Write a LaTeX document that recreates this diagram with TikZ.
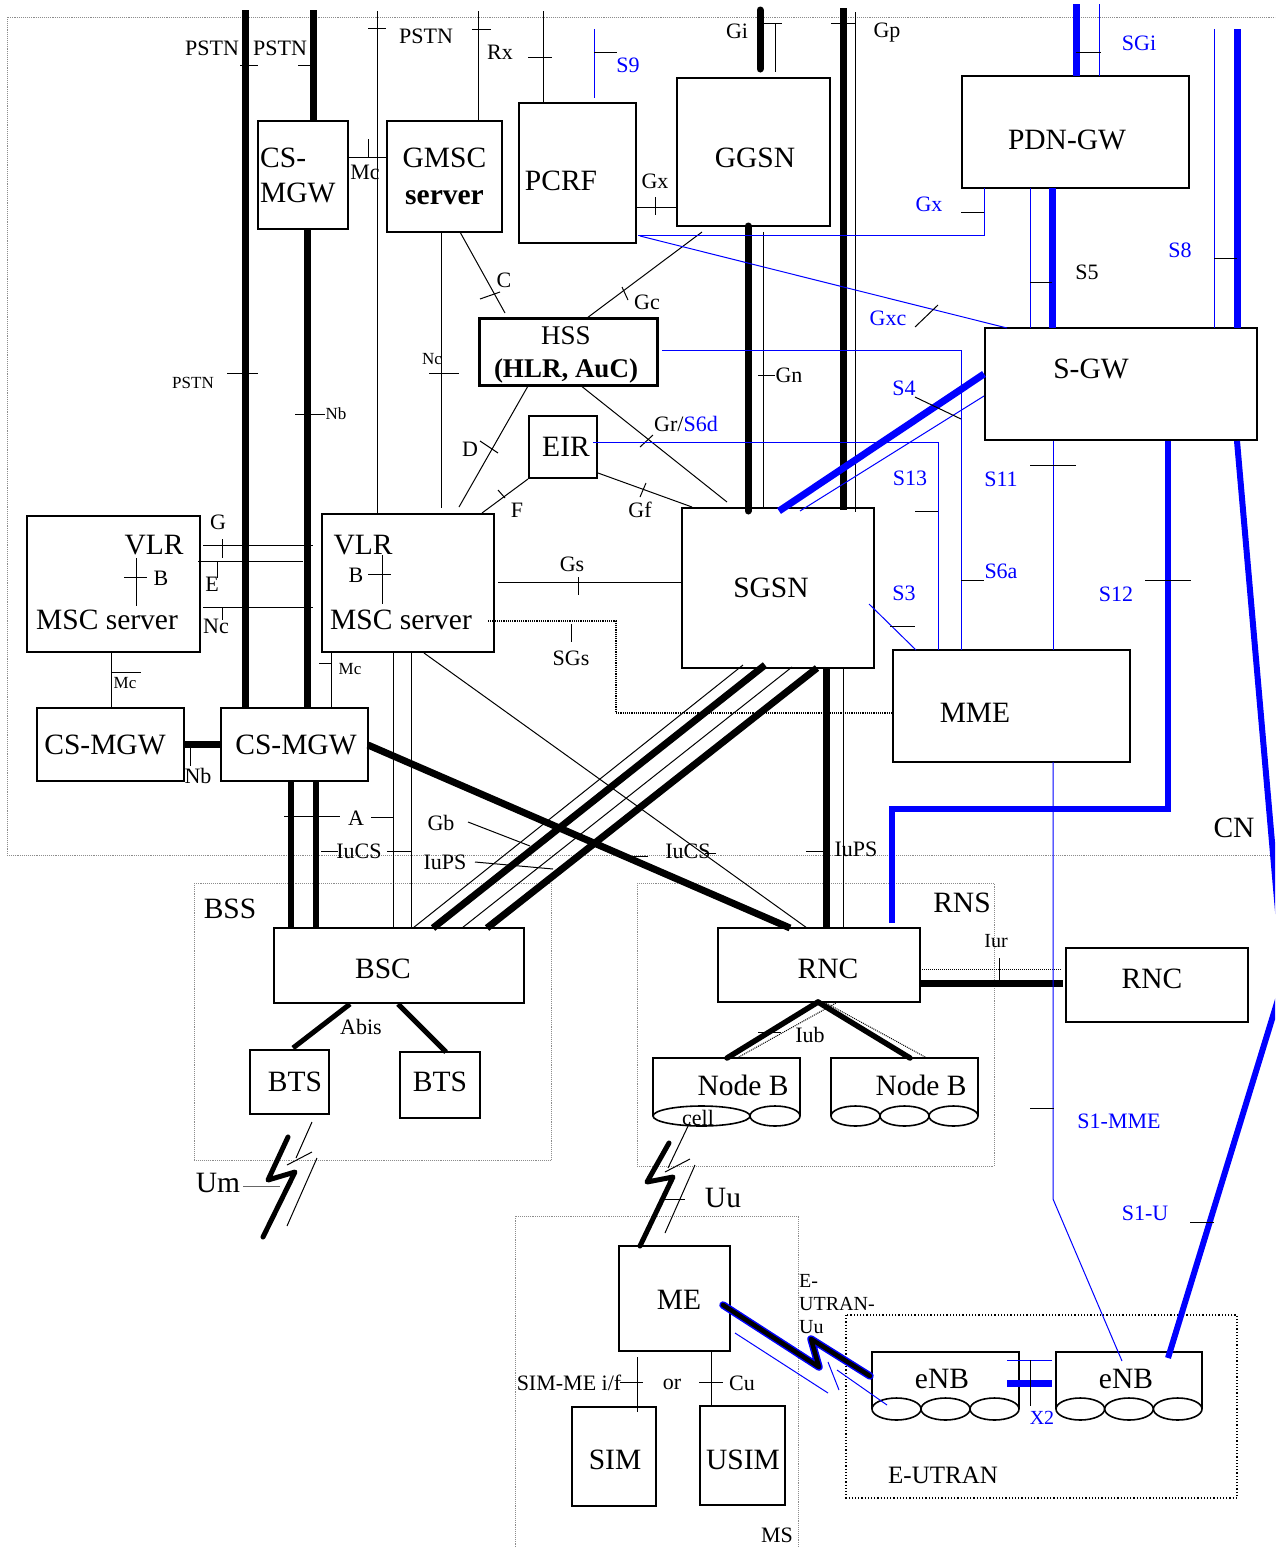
\documentclass[tikz,border=0pt]{standalone}
\usepackage{fontspec}
\setmainfont{Liberation Serif}
\begin{document}
\begin{tikzpicture}[x=1pt,y=-1pt,
  box/.style={draw, line width=2.2pt, inner sep=0pt, font=\fontsize{29.5}{35}\selectfont},
  big/.style={inner sep=0pt, font=\fontsize{29.5}{35}\selectfont},
  med/.style={inner sep=0pt, font=\fontsize{22}{26}\selectfont},
  sml/.style={inner sep=0pt, font=\fontsize{17}{20}\selectfont},
  blu/.style={text=blue},
  thk/.style={line width=7pt},
  thn/.style={line width=1pt},
  bthk/.style={draw=blue, line width=7pt},
  bthn/.style={draw=blue, line width=1pt},
  area/.style={draw=black!45, line width=0.9pt, densely dotted},
  cellshape/.style={line width=1.6pt, fill=white},
]
\useasboundingbox (0,0) rectangle (1275,1548);
\clip (0,0) rectangle (1275,1548);

% ---------------- areas
\draw[area] (1295,17) -- (7,17) -- (7,855) -- (1295,855);
\draw[area] (194,883) rectangle (551,1160);
\draw[area] (637,883) rectangle (994,1166);
\draw[area] (515,1570) -- (515,1216) -- (798,1216) -- (798,1570);
\draw[line width=1.2pt, dotted] (846,1315) rectangle (1237,1498);

% ---------------- boxes
\node[box, minimum width=90pt, minimum height=108pt] (csmgwT) at (303,175) {};
\node[big, align=left, anchor=west] (csmgwTt) at (260,175) {CS-\\MGW};
\node[box, minimum width=115pt, minimum height=111pt, align=center, font=\fontsize{29.5}{37}\selectfont] (gmsc) at (444.5,176.5) {GMSC\\\textbf{server}};
\node[box, minimum width=117pt, minimum height=140pt] (pcrf) at (577.5,173) {};
\node[big] (pcrft) at (561,181) {PCRF};
\node[box, minimum width=153pt, minimum height=148pt] (ggsn) at (753.5,152) {};
\node[big] (ggsnt) at (755,158) {GGSN};
\node[box, minimum width=227pt, minimum height=112pt] (pdngw) at (1075.5,132) {};
\node[big] (pdngwt) at (1067,140) {PDN-GW};
\node[box, minimum width=272pt, minimum height=112pt] (sgw) at (1121,384) {};
\node[big] (sgwt) at (1091,369) {S-GW};
\node[box, line width=3pt, minimum width=178pt, minimum height=67pt] (hss) at (568,351.5) {};
\node[inner sep=0pt, align=center, font=\fontsize{27}{33}\selectfont] (hsst) at (566,355) {HSS\\\textbf{(HLR, AuC)}};
\node[box, line width=2.6pt, minimum width=68pt, minimum height=62pt] (eir) at (563,447) {};
\node[big] (eirt) at (566,447) {EIR};
\node[box, minimum width=192pt, minimum height=160pt] (sgsn) at (778,588) {};
\node[big] (sgsnt) at (771,588) {SGSN};
\node[box, minimum width=237pt, minimum height=112pt] (mme) at (1011.5,706) {};
\node[big] (mmet) at (975,713) {MME};
\node[box, minimum width=173pt, minimum height=136pt] (msc1) at (113.5,584) {};
\node[big] (vlr1) at (154,545) {VLR};
\node[big] (mscs1) at (107,620) {MSC server};
\node[box, minimum width=172pt, minimum height=138pt] (msc2) at (408,583) {};
\node[big] (vlr2) at (363,545) {VLR};
\node[big] (mscs2) at (401,620) {MSC server};
\node[box, minimum width=147pt, minimum height=73pt] (mgw1) at (110.5,744.5) {};
\node[big] (mgw1t) at (105,745) {CS-MGW};
\node[box, minimum width=147pt, minimum height=73pt] (mgw2) at (294.5,744.5) {};
\node[big] (mgw2t) at (296,745) {CS-MGW};
\node[box, minimum width=250pt, minimum height=75pt] (bsc) at (399,965.5) {};
\node[big] (bsct) at (383,969) {BSC};
\node[box, minimum width=79pt, minimum height=64pt] (bts1) at (289.5,1082) {};
\node[big] (bts1t) at (295,1082) {BTS};
\node[box, minimum width=80pt, minimum height=66pt] (bts2) at (440,1085) {};
\node[big] (bts2t) at (440,1082) {BTS};
\node[box, minimum width=202pt, minimum height=74pt] (rnc) at (819,965) {};
\node[big] (rnct) at (828,969) {RNC};
\node[box, minimum width=182pt, minimum height=74pt] (rnc2) at (1157,985) {};
\node[big] (rnc2t) at (1152,979) {RNC};
\node[box, minimum width=111pt, minimum height=105pt] (me) at (674.5,1298.5) {};
\node[big] (met) at (679,1300) {ME};
\node[box, minimum width=84pt, minimum height=99pt] (sim) at (614,1456.5) {};
\node[big] (simt) at (615,1460) {SIM};
\node[box, minimum width=85pt, minimum height=99pt] (usim) at (742.5,1455.5) {};
\node[big] (usimt) at (743,1460) {USIM};

% Node B / eNB shapes
\draw[line width=2pt] (653,1116) -- (653,1058) -- (800,1058) -- (800,1116);
\draw[cellshape] (701.5,1116) ellipse [x radius=48.5pt, y radius=10pt];
\draw[cellshape] (775,1116) ellipse [x radius=25pt, y radius=10pt];
\node[big] (nodeb1) at (743,1085) {Node B};
\draw[line width=2pt] (831,1116) -- (831,1058) -- (978,1058) -- (978,1116);
\draw[cellshape] (855.5,1116) ellipse [x radius=24.5pt, y radius=10pt];
\draw[cellshape] (904.5,1116) ellipse [x radius=24.5pt, y radius=10pt];
\draw[cellshape] (953.5,1116) ellipse [x radius=24.5pt, y radius=10pt];
\node[big] (nodeb2) at (921,1085) {Node B};
\draw[line width=2pt] (872,1409) -- (872,1352) -- (1019,1352) -- (1019,1409);
\draw[cellshape] (896.5,1409) ellipse [x radius=24.5pt, y radius=11pt];
\draw[cellshape] (945.5,1409) ellipse [x radius=24.5pt, y radius=11pt];
\draw[cellshape] (994.5,1409) ellipse [x radius=24.5pt, y radius=11pt];
\node[big] (enb1) at (942,1379) {eNB};
\draw[line width=2pt] (1056,1409) -- (1056,1352) -- (1202,1352) -- (1202,1409);
\draw[cellshape] (1080.3,1409) ellipse [x radius=24.3pt, y radius=11pt];
\draw[cellshape] (1129,1409) ellipse [x radius=24.3pt, y radius=11pt];
\draw[cellshape] (1177.7,1409) ellipse [x radius=24.3pt, y radius=11pt];
\node[big] (enb2) at (1126,1379) {eNB};

% ---------------- thick black lines
\draw[thk] (245,10) -- (245,708);
\draw[thk] (313,10) -- (313,121);
\draw[thk] (307,229) -- (307,708);
\draw[thk] (184,744) -- (221,744);
\draw[line width=6pt] (291,781) -- (291,928);
\draw[line width=6pt] (316,781) -- (316,928);
\draw[thk] (368,745) -- (790,928);
\draw[thk, line cap=round] (748,226) -- (748,511);
\draw[thk] (843,8) -- (843,510);
\draw[thk, line cap=round] (760,10) -- (760,69);
\draw[thk] (765,665) -- (433,928);
\draw[thk] (817,668) -- (487,928);
\draw[thk] (826,668) -- (826,928);
\draw[thk] (920,983) -- (1063,983);
\draw[line width=5.5pt, line cap=round] (818,1002) -- (727,1058);
\draw[line width=5.5pt, line cap=round] (818,1002) -- (910,1058);
\draw[line width=5pt] (350,1004) -- (293,1048);
\draw[line width=5pt] (398,1004) -- (446,1052);
\draw[line width=5pt, line cap=round, line join=round] (288,1137) -- (268,1180) -- (295,1172) -- (263,1237);
\draw[line width=5pt, line cap=round, line join=round] (669,1143) -- (647,1182) -- (673,1177) -- (640,1246);

% ---------------- thin black lines
\draw[thn] (377,11) -- (377,514);  \draw[thn] (368,28) -- (386,28);
\draw[thn] (478,11) -- (478,121);  \draw[thn] (472,29) -- (491,29);
\draw[thn] (543,11) -- (543,103);  \draw[thn] (528,57) -- (552,57);
\draw[thn] (348,157) -- (387,157); \draw[thn] (368,139) -- (368,157);
\draw[thn] (240,65) -- (258,65);
\draw[thn] (298,65) -- (316,65);
\draw[thn] (227,373) -- (258,373);
\draw[thn] (295,414) -- (325,414);
\draw[thn] (775,23) -- (775,72);   \draw[thn] (758,23) -- (782,23);
\draw[thn] (855,12) -- (855,512);  \draw[thn] (831,23) -- (856,23);
\draw[thn] (763,232) -- (763,508); \draw[thn] (758,375) -- (775,375);
\draw[thn] (636,207) -- (677,207); \draw[thn] (655,197) -- (655,215);
\draw[thn] (460,232) -- (505,313); \draw[thn] (480,299) -- (500,292);
\draw[thn] (587,318) -- (702,232); \draw[thn] (622,287) -- (628,300);
\draw[thn] (441,232) -- (441,508); \draw[thn] (429,373) -- (459,373);
\draw[thn] (528,386) -- (459,507); \draw[thn] (480,441) -- (498,453);
\draw[thn] (580,385) -- (727,502); \draw[thn] (640,447) -- (653,435);
\draw[thn] (528,479) -- (482,513); \draw[thn] (498,490) -- (505,498);
\draw[thn] (598,473) -- (692,507); \draw[thn] (646,483) -- (640,497);
\draw[thn] (203,545) -- (313,545); \draw[thn] (222,539) -- (222,558);
\draw[thn] (198,561) -- (303,561); \draw[thn] (217,561) -- (217,578);
\draw[thn] (203,607) -- (313,607); \draw[thn] (222,607) -- (222,620);
\draw[thn] (136,558) -- (136,606); \draw[thn] (124,577) -- (147,577);
\draw[thn] (382,555) -- (382,604); \draw[thn] (368,574) -- (391,574);
\draw[thn] (111,652) -- (111,708); \draw[thn] (111,672) -- (141,672);
\draw[thn] (331,652) -- (331,708); \draw[thn] (319,663) -- (331,663);
\draw[thn] (190,748) -- (190,766);
\draw[thn] (498,582) -- (682,582); \draw[thn] (578,577) -- (578,595);
\draw[line width=1.2pt, densely dotted] (488,621) -- (616,621) -- (616,713) -- (893,713);
\draw[thn] (571,624) -- (571,642);
\draw[thn] (393,652) -- (393,928);
\draw[thn] (411,652) -- (411,928);
\draw[thn] (284,816) -- (340,816); \draw[thn] (371,817) -- (393,817);
\draw[thn] (321,851) -- (338,851); \draw[thn] (387,851) -- (412,851);
\draw[thn] (424,653) -- (807,928);
\draw[thn] (628,856) -- (648,856); \draw[thn] (705,853) -- (716,853);
\draw[thn] (743,665) -- (413,928);
\draw[thn] (792,667) -- (462,928);
\draw[thn] (843,668) -- (843,928); \draw[thn] (806,851) -- (826,851);
\draw[thn] (468,822) -- (530,846);
\draw[thn] (475,862) -- (553,869);
\draw[line width=1pt, densely dotted] (920,969) -- (1062,969);
\draw[thn] (999,958) -- (999,980);
\draw[thn] (758,1032) -- (781,1032);
\draw[line width=1pt, densely dotted] (737,1058) -- (836,1003);
\draw[line width=1pt, densely dotted] (826,1003) -- (927,1058);
\draw[thn] (312,1122) -- (296,1158);
\draw[thn] (317,1158) -- (287,1226);
\draw[thn] (287,1165) -- (312,1152);
\draw[thn, black!60] (243,1186) -- (280,1186);
\draw[thn] (690,1122) -- (668,1168);
\draw[thn] (695,1165) -- (665,1233);
\draw[thn] (665,1172) -- (690,1159);
\draw[thn] (665,1199) -- (685,1199);
\draw[thn] (637,1357) -- (637,1412); \draw[thn] (620,1382) -- (643,1382);
\draw[thn] (711,1351) -- (711,1406); \draw[thn] (699,1382) -- (723,1382);

% ---------------- blue lines
\draw[bthn] (594,29) -- (594,98);   \draw[thn] (594,52) -- (617,52);
\draw[bthn] (638,235) -- (984,235) -- (984,188); \draw[thn] (961,212) -- (984,212);
\draw[bthn] (640,236) -- (1007,328); \draw[thn] (915,327) -- (938,305);
\draw[bthn] (662,350) -- (961,350) -- (961,650); \draw[thn] (961,580) -- (984,580);
\draw[bthn] (593,442) -- (938,442) -- (938,650); \draw[thn] (915,511) -- (938,511);
\draw[bthk] (779,511) -- (984,374);
\draw[bthn] (800,511) -- (984,396);
\draw[thn] (915,397) -- (961,419);
\draw[bthn] (869,604) -- (916,650); \draw[thn] (890,626) -- (915,626);
\draw[bthn] (1053,441) -- (1053,650); \draw[thn] (1030,465) -- (1076,465);
\draw[bthn] (1053,762) -- (1053,1199) -- (1122,1361); \draw[thn] (1030,1108) -- (1054,1108);
\draw[bthk, line width=6.5pt] (1168,441) -- (1168,809) -- (892,809) -- (892,923);
\draw[thn] (1145,580) -- (1191,580);
\draw[bthk, line width=6pt] (1237,441) -- (1284,980) -- (1168,1358);
\draw[thn] (1190,1222) -- (1214,1222);
\draw[bthk] (1052,188) -- (1052,328);
\draw[bthn] (1030,188) -- (1030,328); \draw[thn] (1030,282) -- (1052,282);
\draw[bthn] (1214,29) -- (1214,328);
\draw[bthk] (1237,29) -- (1237,328); \draw[thn] (1214,258) -- (1237,258);
\draw[bthk] (1076,4) -- (1076,76);
\draw[bthn] (1099,4) -- (1099,76); \draw[thn] (1076,52) -- (1101,52);
\draw[bthk] (1007,1383) -- (1052,1383);
\draw[bthn] (1007,1360) -- (1052,1360); \draw[thn] (1030,1360) -- (1030,1406);
\draw[blue, line width=7.5pt, line cap=round, line join=round] (723,1305) -- (819,1367) -- (811,1339) -- (870,1376);
\draw[black, line width=4.5pt, line cap=round, line join=round] (723,1305) -- (819,1367) -- (811,1339) -- (870,1376);
\draw[bthn] (735,1333) -- (828,1393);
\draw[bthn] (828,1362) -- (839,1390);
\draw[bthn] (837,1370) -- (887,1405);

% ---------------- labels
\node[med] (l1) at (212,48.5) {PSTN};
\node[med] (l2) at (280,48.5) {PSTN};
\node[med] (l3) at (426,36) {PSTN};
\node[med] (l4) at (500,52) {Rx};
\node[med, blu] (l5) at (628,65) {S9};
\node[med] (l6) at (737,31) {Gi};
\node[med] (l7) at (887,33) {Gp};
\node[med, blu] (l8) at (1139,43) {SGi};
\node[med] (l9) at (365,172) {Mc};
\node[med] (l10) at (655,181) {Gx};
\node[med, blu] (l11) at (929,204) {Gx};
\node[med] (l12) at (1087,272) {S5};
\node[med, blu] (l13) at (1180,250) {S8};
\node[med, blu] (l14) at (888,318) {Gxc};
\node[med] (l15) at (504,280) {C};
\node[med] (l16) at (647,302) {Gc};
\node[sml] (l17) at (432,359) {Nc};
\node[sml] (l18) at (193,383) {PSTN};
\node[med] (l19) at (789,375) {Gn};
\node[med, blu] (l20) at (904,388) {S4};
\node[sml] (l21) at (336,414) {Nb};
\node[med] (l22) at (686,424) {Gr/\textcolor{blue}{S6d}};
\node[med] (l23) at (470,449) {D};
\node[med, blu] (l24) at (910,478) {S13};
\node[med, blu] (l25) at (1001,479) {S11};
\node[med] (l26) at (517,510) {F};
\node[med] (l27) at (640,510) {Gf};
\node[med] (l28) at (218,522) {G};
\node[med] (l29) at (572,564) {Gs};
\node[med, blu] (l30) at (1001,571) {S6a};
\node[med] (l31) at (161,578) {B};
\node[med] (l32) at (356,575) {B};
\node[med] (l33) at (212,584) {E};
\node[med, blu] (l34) at (904,593) {S3};
\node[med, blu] (l35) at (1116,594) {S12};
\node[med] (l36) at (216,626) {Nc};
\node[med] (l37) at (571,658) {SGs};
\node[sml] (l38) at (125,683) {Mc};
\node[sml] (l39) at (350,669) {Mc};
\node[med] (l40) at (198,776) {Nb};
\node[med] (l41) at (356,818) {A};
\node[med] (l42) at (359,851) {IuCS};
\node[med] (l43) at (441,823) {Gb};
\node[med] (l44) at (445,862) {IuPS};
\node[med] (l45) at (688,851) {IuCS};
\node[med] (l46) at (856,849) {IuPS};
\node[big] (l47) at (1234,828) {CN};
\node[big] (l48) at (230,909) {BSS};
\node[big] (l49) at (962,903) {RNS};
\node[inner sep=0pt, font=\fontsize{20}{23}\selectfont] (l50) at (996,941) {Iur};
\node[med] (l51) at (361,1027) {Abis};
\node[med] (l52) at (810,1035) {Iub};
\node[med] (l53) at (698,1118) {cell};
\node[med, blu] (l54) at (1119,1121) {S1-MME};
\node[big] (l55) at (218,1183) {Um};
\node[big] (l56) at (723,1198) {Uu};
\node[med, blu] (l57) at (1145,1213) {S1-U};
\node[inner sep=0pt, anchor=west, align=left, font=\fontsize{20}{23}\selectfont] (l58) at (799,1304) {E-\\UTRAN-\\Uu};
\node[med] (l59) at (569,1383) {SIM-ME i/f};
\node[med] (l60) at (672,1384) {or};
\node[med] (l61) at (742,1383) {Cu};
\node[inner sep=0pt, text=blue, font=\fontsize{20}{23}\selectfont] (l62) at (1042,1418) {X2};
\node[inner sep=0pt, font=\fontsize{25}{30}\selectfont] (l63) at (943,1475) {E-UTRAN};
\node[med] (l64) at (777,1535) {MS};
\end{tikzpicture}
\end{document}
